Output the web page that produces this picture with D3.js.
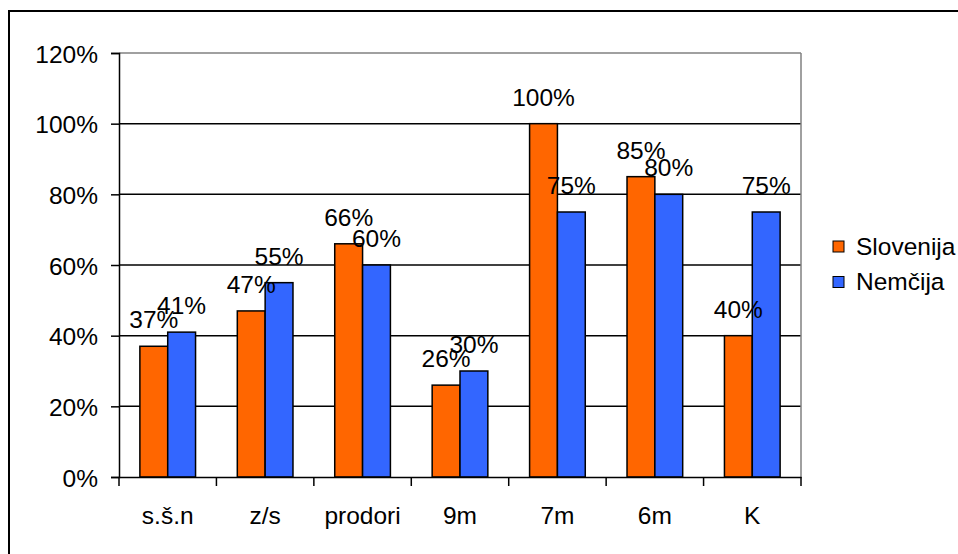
<!DOCTYPE html>
<html lang="en">
    <head>
        <meta charset="utf-8">
        <title>Slovenija / Nemčija</title>
        <script src="https://d3js.org/d3.v7.min.js"></script>
        <style>
            body { margin: 0; background: #fff; }
            text { font-family: "Liberation Sans", Arial, sans-serif; }
        </style>
    </head>

    <body>
        <div id="chart"></div>

        <script>
            // data
            var categories = ["s.š.n", "z/s", "prodori", "9m", "7m", "6m", "K"];
            var slovenija = [37, 47, 66, 26, 100, 85, 40];
            var nemcija = [41, 55, 60, 30, 75, 80, 75];
            var seriesNames = ["Slovenija", "Nemčija"];
            var yTicks = [0, 20, 40, 60, 80, 100, 120];

            var colors = ["#FF6600", "#3366FF"];
            var W = 958, H = 554;
            var plotLeft = 119, plotRight = 801, plotTop = 53, plotBottom = 477;

            var svg = d3.select("#chart")
                        .append("svg")
                        .attr("width", W)
                        .attr("height", H);

            svg.append("rect")
               .attr("width", W).attr("height", H)
               .attr("fill", "#fff");

            // outer frame (right and bottom edges are cut off)
            svg.append("rect")
               .attr("x", 9).attr("y", 11)
               .attr("width", W + 20).attr("height", H + 20)
               .attr("fill", "none")
               .attr("stroke", "#000")
               .attr("stroke-width", 2);

            var x = d3.scaleBand()
                      .domain(categories)
                      .range([plotLeft, plotRight]);

            var y = d3.scaleLinear()
                      .domain([0, 120])
                      .range([plotBottom, plotTop]);

            // bar width as in excel, gap width 150%
            var barW = x.bandwidth() / 3.5;
            var x1 = d3.scaleBand()
                       .domain([0, 1])
                       .range([0, barW * 2]);

            // grid lines
            svg.selectAll(".grid")
               .data(yTicks.filter(function(d){ return d > 0; }))
               .enter()
               .append("line")
               .attr("x1", plotLeft).attr("x2", plotRight)
               .attr("y1", function(d){ return y(d); })
               .attr("y2", function(d){ return y(d); })
               .attr("stroke", function(d){ return d == 120 ? "#808080" : "#000"; })
               .attr("stroke-width", 1.5);

            // right border of plot area
            svg.append("line")
               .attr("x1", plotRight).attr("x2", plotRight)
               .attr("y1", plotTop).attr("y2", plotBottom)
               .attr("stroke", "#808080")
               .attr("stroke-width", 1.5);

            // y axis
            var yAxis = d3.axisLeft(y)
                          .tickValues(yTicks)
                          .tickSize(8)
                          .tickPadding(13)
                          .tickFormat(function(d){ return d + "%"; });

            var gy = svg.append("g")
                        .attr("transform", "translate(" + plotLeft + ",0)")
                        .call(yAxis);
            gy.select(".domain").attr("stroke", "#000").attr("stroke-width", 1.5);
            gy.selectAll(".tick line").attr("stroke", "#000").attr("stroke-width", 1.5);
            gy.selectAll(".tick text")
              .attr("fill", "#000")
              .style("font-size", "24.5px")
              .attr("dy", "0.38em");

            // bars
            var groups = svg.selectAll(".cat")
                            .data(categories)
                            .enter()
                            .append("g")
                            .attr("class", "cat")
                            .attr("transform", function(d){
                                return "translate(" + (x(d) + (x.bandwidth() - barW * 2) / 2) + ",0)";
                            });

            var rows = [slovenija, nemcija];

            groups.selectAll("rect")
                  .data(function(d, i){ return rows.map(function(r, s){ return {s: s, v: r[i]}; }); })
                  .enter()
                  .append("rect")
                  .attr("x", function(d){ return x1(d.s); })
                  .attr("y", function(d){ return y(d.v); })
                  .attr("width", x1.bandwidth())
                  .attr("height", function(d){ return plotBottom - y(d.v); })
                  .attr("fill", function(d){ return colors[d.s]; })
                  .attr("stroke", "#000")
                  .attr("stroke-width", 1.5);

            // x axis
            var xAxis = d3.axisBottom(x).tickSize(0).tickPadding(47);
            var gx = svg.append("g")
                        .attr("transform", "translate(0," + plotBottom + ")")
                        .call(xAxis);
            gx.select(".domain").attr("stroke", "#000").attr("stroke-width", 1.5);
            gx.selectAll(".tick text")
              .attr("fill", "#000")
              .style("font-size", "24.5px")
              .attr("dy", "0");

            // tick marks between categories
            svg.selectAll(".xtick")
               .data(d3.range(categories.length + 1))
               .enter()
               .append("line")
               .attr("x1", function(i){ return plotLeft + i * x.bandwidth(); })
               .attr("x2", function(i){ return plotLeft + i * x.bandwidth(); })
               .attr("y1", plotBottom)
               .attr("y2", plotBottom + 9)
               .attr("stroke", "#000")
               .attr("stroke-width", 1.5);

            // value labels
            groups.selectAll(".lbl")
                  .data(function(d, i){ return rows.map(function(r, s){ return {s: s, v: r[i]}; }); })
                  .enter()
                  .append("text")
                  .attr("class", "lbl")
                  .attr("x", function(d){ return x1(d.s) + x1.bandwidth() / 2; })
                  .attr("y", function(d){ return y(d.v) - 18; })
                  .attr("text-anchor", "middle")
                  .style("font-size", "24.5px")
                  .text(function(d){ return d.v + "%"; });

            // legend
            var legend = svg.selectAll(".leg")
                            .data(seriesNames)
                            .enter()
                            .append("g")
                            .attr("transform", function(d, i){ return "translate(833," + (241 + i * 35.5) + ")"; });

            legend.append("rect")
                  .attr("width", 11).attr("height", 11)
                  .attr("fill", function(d, i){ return colors[i]; })
                  .attr("stroke", "#000")
                  .attr("stroke-width", 1);

            legend.append("text")
                  .attr("x", 23)
                  .attr("y", 13.5)
                  .style("font-size", "24.5px")
                  .text(function(d){ return d; });
        </script>
    </body>
</html>
